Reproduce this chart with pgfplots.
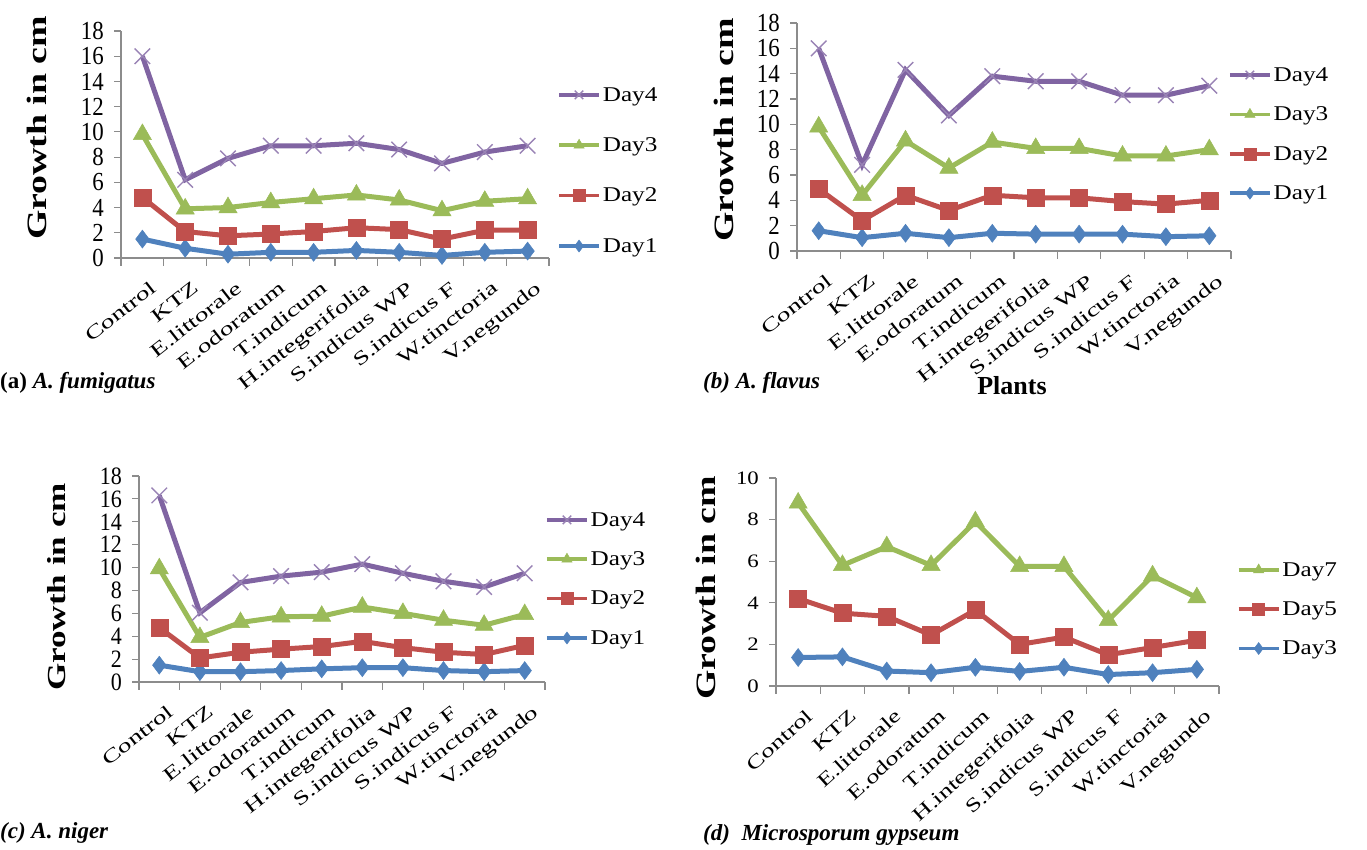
\documentclass[border=0pt]{standalone}
\usepackage{pgfplots}
\pgfplotsset{compat=1.18}
\usepackage{pgfplotstable}
\usepackage{fontspec}
\setmainfont{Liberation Serif}
\newfontfamily\ytf[FakeStretch=0.88]{Liberation Serif}
\newfontfamily\ytfd[FakeStretch=1.2]{Liberation Serif}
\newfontfamily\xtf[FakeStretch=1.45]{Liberation Serif}
\newfontfamily\xtfd[FakeStretch=1.4]{Liberation Serif}
\newfontfamily\ylf[FakeStretch=1.35]{Liberation Serif}
\newfontfamily\lgf[FakeStretch=1.2]{Liberation Serif}

\definecolor{cb}{HTML}{4F81BD}
\definecolor{cr}{HTML}{C0504D}
\definecolor{cg}{HTML}{9BBB59}
\definecolor{cp}{HTML}{8064A2}
\definecolor{ax}{HTML}{8C8C8C}

\pgfplotstableread{
x d1 d2 d3 d4
0 1.5 4.8 9.8 16.0
1 0.77 2.1 3.9 6.2
2 0.3 1.76 4.0 7.9
3 0.45 1.9 4.4 8.9
4 0.45 2.1 4.7 8.9
5 0.6 2.4 5.0 9.1
6 0.45 2.25 4.6 8.6
7 0.2 1.5 3.75 7.5
8 0.45 2.2 4.5 8.4
9 0.55 2.2 4.7 8.9
}\tabA
\pgfplotstableread{
x d1 d2 d3 d4
0 1.6 4.9 9.8 16.0
1 1.05 2.4 4.4 6.8
2 1.4 4.4 8.7 14.3
3 1.05 3.2 6.55 10.7
4 1.4 4.4 8.6 13.8
5 1.33 4.2 8.1 13.4
6 1.33 4.2 8.1 13.4
7 1.33 3.9 7.5 12.3
8 1.13 3.7 7.5 12.3
9 1.2 4.0 8.0 13.05
}\tabB
\pgfplotstableread{
x d1 d2 d3 d4
0 1.47 4.75 9.9 16.3
1 0.9 2.1 3.9 6.05
2 0.9 2.6 5.2 8.7
3 1.0 2.87 5.7 9.25
4 1.15 3.1 5.75 9.6
5 1.25 3.55 6.55 10.3
6 1.25 3.0 6.0 9.5
7 1.0 2.6 5.4 8.8
8 0.9 2.4 4.96 8.3
9 1.0 3.2 5.9 9.5
}\tabC
\pgfplotstableread{
x d3 d5 d7
0 1.37 4.2 8.8
1 1.4 3.5 5.8
2 0.72 3.35 6.7
3 0.64 2.45 5.8
4 0.9 3.65 7.9
5 0.7 2.0 5.75
6 0.9 2.35 5.75
7 0.55 1.5 3.15
8 0.64 1.85 5.3
9 0.8 2.2 4.25
}\tabD

\pgfplotsset{
  panel/.style={
    scale only axis, clip=false,
    axis x line*=bottom, axis y line*=left,
    axis line style={-, ax, line width=1.5pt},
    xmin=-0.5, xmax=9.5, ymin=0,
    xtick={0,...,9},
    xticklabels={Control,KTZ,E.littorale,E.odoratum,T.indicum,H.integerifolia,S.indicus WP,S.indicus F,W.tinctoria,V.negundo},
    minor xtick={-0.5,0.5,...,9.5},
    tick align=outside,
    major x tick style={draw=none},
    every tick/.style={ax, line width=1.2pt},
    minor tick length=8pt, major tick length=7pt,
    /pgf/number format/assume math mode=true,
    yticklabel style={inner sep=0pt, xshift=-10pt, anchor=east},
    legend cell align=left,
    reverse legend,
    legend image code/.code={
      \draw[mark repeat=2,mark phase=2,##1, line width=3.5pt, mark size=6pt] plot coordinates {(0pt,0pt) (20pt,0pt) (40pt,0pt)};
    },
  },
  xlabA/.style={xticklabel style={font=\xtf\fontsize{19}{19}\selectfont, inner sep=0pt, yshift=-15pt, xshift=7pt, rotate=38, anchor=north east}},
  xlabD/.style={xticklabel style={font=\xtfd\fontsize{19}{19}\selectfont, inner sep=0pt, yshift=-15pt, xshift=7pt, rotate=42, anchor=north east}},
  s1/.style={color=cb, line width=5pt, mark=diamond*, mark size=9pt, mark options={solid, line width=0.5pt, fill=cb, draw=cb}},
  s2/.style={color=cr, line width=5pt, mark=square*, mark size=8.5pt, mark options={solid, line width=0.5pt, fill=cr, draw=cr}},
  s3/.style={color=cg, line width=5pt, mark=triangle*, mark size=10.5pt, mark options={solid, line width=0.5pt, fill=cg, draw=cg}},
  s4/.style={color=cp, line width=5pt, mark=x, mark size=11pt, mark options={solid, line width=1.4pt, draw=cp!80}},
}

\begin{document}
\begin{tikzpicture}
\path[use as bounding box] (0,0) rectangle (1367pt,850pt);

% (a)
\begin{axis}[panel, xlabA, at={(121pt,592pt)}, anchor=south west, width=428pt, height=227pt,
  ymax=18, ytick={0,2,...,18},
  yticklabel style={font=\ytf\fontsize{26}{26}\selectfont},
  legend style={at={(1.019,0.762)}, anchor=north west, draw=none, fill=none, font=\lgf\fontsize{21}{21}\selectfont, row sep=31pt, inner sep=0pt}]
\addplot[s1] table[x=x,y=d1] {\tabA}; \addlegendentry{Day1}
\addplot[s2] table[x=x,y=d2] {\tabA}; \addlegendentry{Day2}
\addplot[s3] table[x=x,y=d3] {\tabA}; \addlegendentry{Day3}
\addplot[s4] table[x=x,y=d4] {\tabA}; \addlegendentry{Day4}
\end{axis}

% (b)
\begin{axis}[panel, xlabA, at={(797pt,599pt)}, anchor=south west, width=434pt, height=228pt,
  ymax=18, ytick={0,2,...,18},
  yticklabel style={font=\ytf\fontsize{26}{26}\selectfont},
  legend style={at={(0.993,0.815)}, anchor=north west, draw=none, fill=none, font=\lgf\fontsize{21}{21}\selectfont, row sep=20pt, inner sep=0pt}]
\addplot[s1] table[x=x,y=d1] {\tabB}; \addlegendentry{Day1}
\addplot[s2] table[x=x,y=d2] {\tabB}; \addlegendentry{Day2}
\addplot[s3] table[x=x,y=d3] {\tabB}; \addlegendentry{Day3}
\addplot[s4] table[x=x,y=d4] {\tabB}; \addlegendentry{Day4}
\end{axis}

% (c)
\begin{axis}[panel, xlabA, at={(139pt,168pt)}, anchor=south west, width=406pt, height=206pt,
  ymax=18, ytick={0,2,...,18},
  yticklabel style={font=\ytf\fontsize{25}{25}\selectfont},
  legend style={at={(1.0,0.835)}, anchor=north west, draw=none, fill=none, font=\lgf\fontsize{21}{21}\selectfont, row sep=20pt, inner sep=0pt}]
\addplot[s1] table[x=x,y=d1] {\tabC}; \addlegendentry{Day1}
\addplot[s2] table[x=x,y=d2] {\tabC}; \addlegendentry{Day2}
\addplot[s3] table[x=x,y=d3] {\tabC}; \addlegendentry{Day3}
\addplot[s4] table[x=x,y=d4] {\tabC}; \addlegendentry{Day4}
\end{axis}

% (d)
\begin{axis}[panel, xlabD, at={(776pt,164pt)}, anchor=south west, width=443pt, height=208pt,
  ymax=10, ytick={0,2,...,10},
  yticklabel style={font=\ytfd\fontsize{19}{19}\selectfont},
  legend style={at={(1.04,0.605)}, anchor=north west, draw=none, fill=none, font=\lgf\fontsize{21}{21}\selectfont, row sep=20pt, inner sep=0pt}]
\addplot[s1] table[x=x,y=d3] {\tabD}; \addlegendentry{Day3}
\addplot[s2] table[x=x,y=d5] {\tabD}; \addlegendentry{Day5}
\addplot[s3] table[x=x,y=d7] {\tabD}; \addlegendentry{Day7}
\end{axis}

% y labels
\node[rotate=90, font=\ylf\bfseries\fontsize{28}{28}\selectfont] at (37pt,722pt) {Growth in cm};
\node[rotate=90, font=\ylf\bfseries\fontsize{28}{28}\selectfont] at (724pt,720pt) {Growth in cm};
\node[rotate=90, font=\ylf\bfseries\fontsize{26}{26}\selectfont] at (57pt,263pt) {Growth in cm};
\node[rotate=90, font=\ylf\bfseries\fontsize{28}{28}\selectfont] at (706pt,262pt) {Growth in cm};

% captions
\node[anchor=west, inner sep=0pt, font=\bfseries\fontsize{23}{23}\selectfont] at (0pt,467pt) {(a) \textit{A. fumigatus}};
\node[anchor=west, inner sep=0pt, font=\bfseries\itshape\fontsize{23}{23}\selectfont] at (703pt,467pt) {(b) A. flavus};
\node[inner sep=0pt, font=\bfseries\fontsize{26}{26}\selectfont] at (1012pt,464pt) {Plants};
\node[anchor=west, inner sep=0pt, font=\bfseries\itshape\fontsize{23}{23}\selectfont] at (0pt,17pt) {(c) A. niger};
\node[anchor=west, inner sep=0pt, font=\bfseries\itshape\fontsize{23}{23}\selectfont] at (703pt,15pt) {(d)\ \ Microsporum gypseum};
\end{tikzpicture}
\end{document}
